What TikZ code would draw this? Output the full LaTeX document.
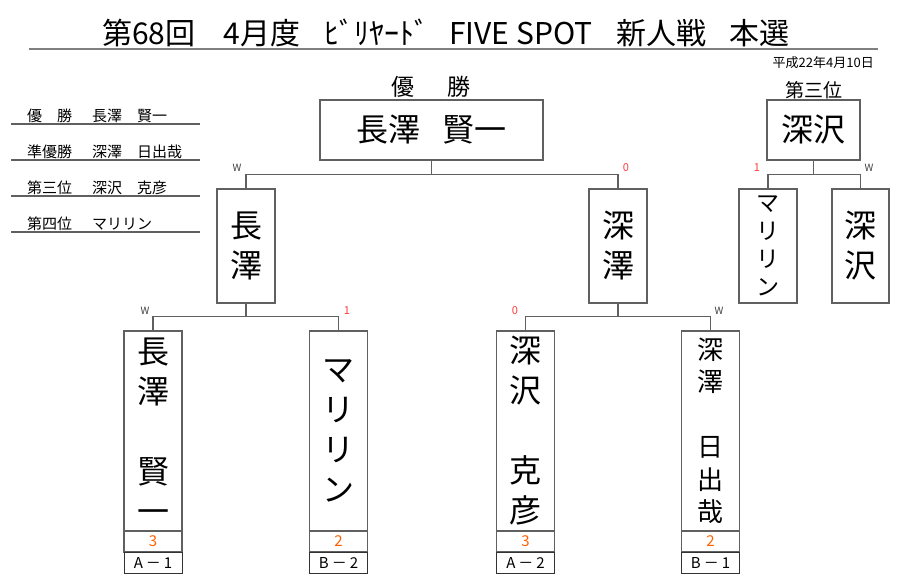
\documentclass[tikz,border=0pt]{standalone}
\usepackage{fontspec}
\setmainfont{Noto Sans CJK JP}
\definecolor{ln}{HTML}{606060}
\definecolor{redn}{HTML}{FF3B3B}
\definecolor{orn}{HTML}{FF6000}
\begin{document}
\begin{tikzpicture}[x=1pt,y=-1pt,
  box/.style={draw=ln, line width=1.1pt, inner sep=0pt, align=center, minimum width=58pt},
  bigtxt/.style={font=\fontsize{32}{40}\selectfont},
  midtxt/.style={font=\fontsize{26}{32.5}\selectfont},
  smtxt/.style={font=\fontsize{23}{28}\selectfont},
  conn/.style={draw=ln, line width=1.1pt},
  scorebox/.style={draw=ln, line width=1.1pt, minimum width=58pt, minimum height=21pt, inner sep=0pt, text=orn, font=\fontsize{15}{15}\selectfont},
  labbox/.style={draw=black!80, line width=0.9pt, minimum width=58pt, minimum height=21pt, inner sep=0pt, font=\fontsize{15}{15}\selectfont},
  wl/.style={text=black!75, font=\fontsize{10}{10}\selectfont, inner sep=0pt},
  rl/.style={text=redn, font=\fontsize{11}{11}\selectfont, inner sep=0pt},
  listtxt/.style={anchor=west, inner sep=0pt, font=\fontsize{15}{15}\selectfont},
  listline/.style={draw=ln, line width=1.1pt}
]
\useasboundingbox (0,0) rectangle (900,587);

% title
\node[anchor=west, inner sep=0pt, font=\fontsize{30}{30}\selectfont] (title) at (102,33)
  {第68回\hspace{28pt}4月度\hspace{24pt}ﾋﾞﾘﾔｰﾄﾞ\hspace{20pt}FIVE SPOT\hspace{24pt}新人戦\hspace{23pt}本選};
\coordinate (ul1) at (29,49);
\coordinate (ul2) at (878,49);
\draw[draw=ln!80, line width=2pt] (ul1) -- (ul2);
\node[anchor=east, inner sep=0pt, font=\fontsize{13}{13}\selectfont] (date) at (874,63) {平成22年4月10日};

% left list
\foreach \y/\a/\b [count=\i] in {116/優　勝/長澤　賢一, 152/準優勝/深澤　日出哉, 188/第三位/深沢　克彦, 224/第四位/マリリン}{
  \node[listtxt] (la\i) at (27,\y) {\a};
  \node[listtxt] (lb\i) at (92,\y) {\b};
  \coordinate (ls\i) at (11,\y+8);
  \coordinate (le\i) at (200,\y+8);
  \draw[listline] (ls\i) -- (le\i);
}

% winner
\node[inner sep=0pt, font=\fontsize{23}{23}\selectfont] (yusho) at (431,87) {優\hspace{34pt}勝};
\node[box, minimum width=223pt, minimum height=60pt, font=\fontsize{32}{32}\selectfont] (win) at (431.5,130) {長澤\hspace{22pt}賢一};

% semifinal
\node[box, minimum height=114pt, bigtxt] (sl) at (246,246) {長\\澤};
\node[box, minimum height=114pt, bigtxt] (sr) at (618,246) {深\\澤};
\draw[conn] (win.south) -- ++(0,14) -| (sl.north);
\draw[conn] (win.south) -- ++(0,14) -| (sr.north);
\node[wl] (w1) at (237,168) {W};
\node[rl] (r1) at (626,168) {0};

% third place
\node[inner sep=0pt, font=\fontsize{19}{19}\selectfont] (sanni) at (814,90) {第三位};
\node[box, minimum width=93pt, minimum height=60pt, font=\fontsize{32}{32}\selectfont] (third) at (813.5,130) {深沢};
\node[box, minimum height=114pt, smtxt] (tm) at (768,246) {マ\\リ\\リ\\ン};
\node[box, minimum width=57pt, minimum height=114pt, bigtxt] (tf) at (860.5,246) {深\\沢};
\draw[conn] (third.south) -- ++(0,14) -| (tm.north);
\draw[conn] (third.south) -- ++(0,14) -| (tf.north);
\node[rl] (r2) at (757,168) {1};
\node[wl] (w2) at (869,168) {W};

% quarterfinal
\node[box, minimum height=200pt, bigtxt] (q1) at (153,431) {長\\澤\\[40pt]賢\\一};
\node[box, minimum height=200pt, bigtxt] (q2) at (338.5,431) {マ\\リ\\リ\\ン};
\node[box, minimum height=200pt, bigtxt] (q3) at (525.5,431) {深\\沢\\[40pt]克\\彦};
\node[box, minimum height=200pt, midtxt] (q4) at (710.5,431) {深\\澤\\[32.5pt]日\\出\\哉};

\node[scorebox] (s1) at (153,541.5) {3};
\node[scorebox] (s2) at (338.5,541.5) {2};
\node[scorebox] (s3) at (525.5,541.5) {3};
\node[scorebox] (s4) at (710.5,541.5) {2};

\node[labbox] (b1) at (153,562.5) {A\hspace{3pt}－\hspace{3pt}1};
\node[labbox] (b2) at (338.5,562.5) {B\hspace{3pt}－\hspace{3pt}2};
\node[labbox] (b3) at (525.5,562.5) {A\hspace{3pt}－\hspace{3pt}2};
\node[labbox] (b4) at (710.5,562.5) {B\hspace{3pt}－\hspace{3pt}1};

\draw[conn] (sl.south) -- ++(0,13) -| (q1.north);
\draw[conn] (sl.south) -- ++(0,13) -| (q2.north);
\draw[conn] (sr.south) -- ++(0,13) -| (q3.north);
\draw[conn] (sr.south) -- ++(0,13) -| (q4.north);
\node[wl] (w3) at (145,311) {W};
\node[rl] (r3) at (347,311) {1};
\node[rl] (r4) at (515,311) {0};
\node[wl] (w4) at (719,311) {W};
\end{tikzpicture}
\end{document}
